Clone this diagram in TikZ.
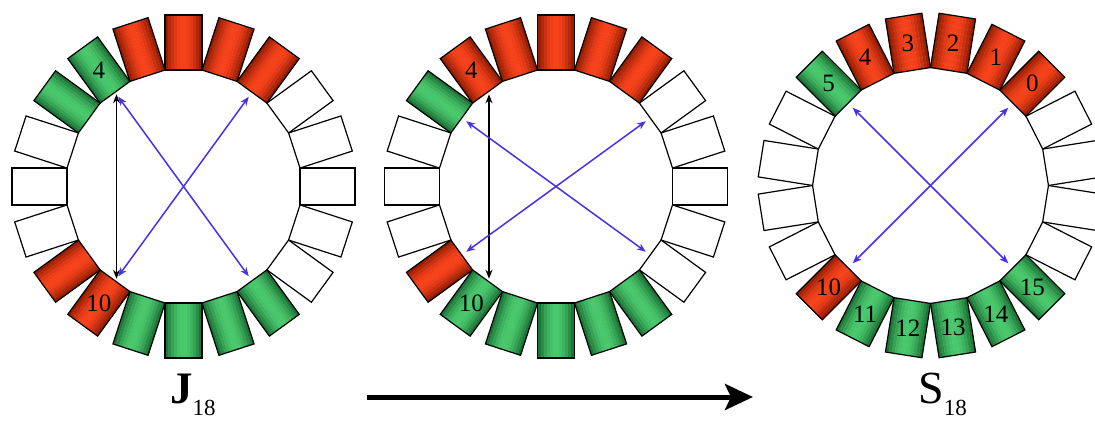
\documentclass[tikz,border=0pt]{standalone}
\usepackage{fontspec}
\setmainfont{Liberation Serif}
\usetikzlibrary{arrows.meta,calc}

\definecolor{rdark}{RGB}{135,24,0}
\definecolor{rlight}{RGB}{246,66,26}
\definecolor{gdark}{RGB}{22,104,48}
\definecolor{glight}{RGB}{74,200,108}
\definecolor{wdark}{RGB}{255,255,255}
\definecolor{wlight}{RGB}{255,255,255}
\definecolor{linkblue}{RGB}{72,48,232}

\tikzset{
  slot/.style={draw=black, line width=1.2pt, line join=miter},
  slotnum/.style={font=\fontsize{25}{25}\selectfont, inner sep=0pt},
  bluelink/.style={draw=linkblue, line width=1.5pt, {Stealth[length=9pt,width=7pt]}-{Stealth[length=9pt,width=7pt]}},
  blacklink/.style={draw=black, line width=1.5pt, {Stealth[length=9pt,width=7pt]}-{Stealth[length=9pt,width=7pt]}},
}

% one ring of 20 slots: centre x, centre y, start angle, colours (r, g, w)
\newcommand{\slotring}[4]{%
  \foreach \c [count=\k from 0] in {#4}{
    \begin{scope}[shift={(#1,#2)}, rotate=#3+18*\k]
      \foreach \s in {0,...,11}{
        \pgfmathsetmacro\p{100*sin(180*(\s+0.5)/12)}
        \fill[\c light!\p!\c dark] (116.5,-18.45+3.075*\s) rectangle (171.5,-18.15+3.075*\s+3.075);
      }
      \path[slot] (116.5,-18.45) rectangle (171.5,18.45);
    \end{scope}
  }}

\begin{document}
\begin{tikzpicture}[x=1pt,y=1pt]
  \useasboundingbox (0,0) rectangle (1095,421);
  \coordinate (c1) at (183.5,234.5);
  \coordinate (c2) at (556,234.5);
  \coordinate (c3) at (930.5,235.5);

  % J_18
  \slotring{183.5}{234.5}{0}{w,w,w,r,r,r,r,g,g,w,w,w,r,r,g,g,g,g,w,w}
  % intermediate
  \slotring{556}{234.5}{0}{w,w,w,r,r,r,r,r,g,w,w,w,r,g,g,g,g,g,w,w}
  % S_18
  \slotring{930.5}{235.5}{9}{w,w,r,r,r,r,r,g,w,w,w,w,r,g,g,g,g,g,w,w}

  % slot numbers
  \node[slotnum] (j4)  at ($(c1)+(126:144)$) {4};
  \node[slotnum] (j10) at ($(c1)+(234:144)$) {10};
  \node[slotnum] (m4)  at ($(c2)+(126:144)$) {4};
  \node[slotnum] (m10) at ($(c2)+(234:144)$) {10};
  \foreach \i in {0,...,5,10,11,...,15}
    \node[slotnum] (s\i) at ($(c3)+(45+18*\i:144)$) {\i};

  % links inside the rings
  \coordinate (j1a) at ($(c1)+(126:114)$);
  \coordinate (j1b) at ($(c1)+(234:114)$);
  \coordinate (j2a) at ($(c1)+(126:111)$);
  \coordinate (j2b) at ($(c1)+(306:111)$);
  \coordinate (j3a) at ($(c1)+(54:111)$);
  \coordinate (j3b) at ($(c1)+(234:111)$);
  \draw[blacklink] (j1a) -- (j1b);
  \draw[bluelink] (j2a) -- (j2b);
  \draw[bluelink] (j3a) -- (j3b);

  \coordinate (m1a) at ($(c2)+(126:114)$);
  \coordinate (m1b) at ($(c2)+(234:114)$);
  \coordinate (m2a) at ($(c2)+(144:111)$);
  \coordinate (m2b) at ($(c2)+(324:111)$);
  \coordinate (m3a) at ($(c2)+(36:111)$);
  \coordinate (m3b) at ($(c2)+(216:111)$);
  \draw[blacklink] (m1a) -- (m1b);
  \draw[bluelink] (m2a) -- (m2b);
  \draw[bluelink] (m3a) -- (m3b);

  \coordinate (s2a) at ($(c3)+(135:110)$);
  \coordinate (s2b) at ($(c3)+(315:110)$);
  \coordinate (s3a) at ($(c3)+(45:110)$);
  \coordinate (s3b) at ($(c3)+(225:110)$);
  \draw[bluelink] (s2a) -- (s2b);
  \draw[bluelink] (s3a) -- (s3b);

  % big arrow
  \coordinate (go) at (367,24);
  \coordinate (arrive) at (753,24);
  \draw[line width=5pt, -{Stealth[length=28pt,width=26pt,inset=6pt]}] (go) -- (arrive);

  % names
  \node[anchor=base west, inner sep=0pt] (jname) at (170,18)
    {{\fontsize{45}{45}\selectfont\bfseries J}\raisebox{-12pt}{\fontsize{23}{23}\selectfont 18}};
  \node[anchor=base west, inner sep=0pt] (sname) at (918,18)
    {{\fontsize{46}{46}\selectfont S}\raisebox{-12pt}{\fontsize{23}{23}\selectfont 18}};
\end{tikzpicture}
\end{document}
